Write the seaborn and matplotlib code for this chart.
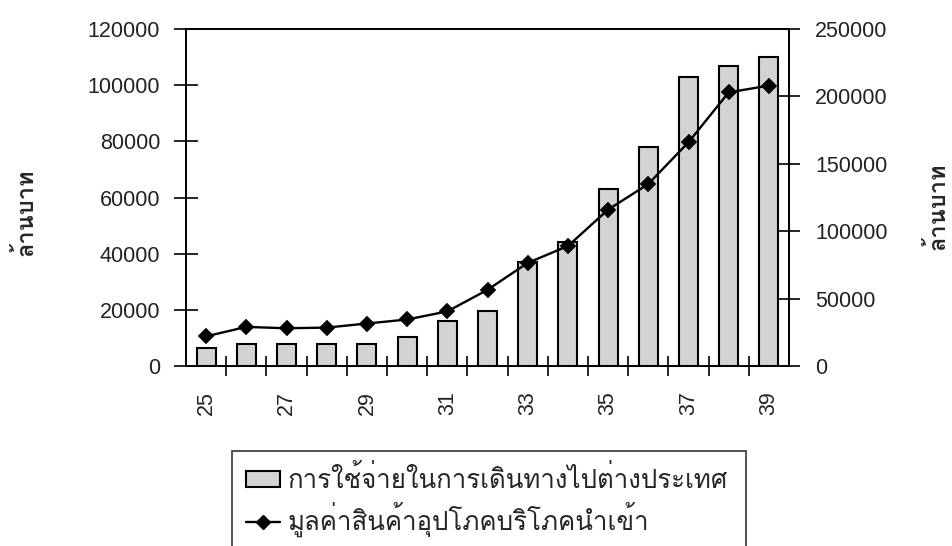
import matplotlib
matplotlib.use("Agg")
import matplotlib.pyplot as plt
import seaborn as sns
import pandas as pd
from matplotlib import font_manager
from matplotlib.ft2font import FT2Font
from matplotlib.patches import Patch
from matplotlib.lines import Line2D

# Buddhist-era years (2525-2539, last two digits)
years = ["25", "26", "27", "28", "29", "30", "31", "32",
         "33", "34", "35", "36", "37", "38", "39"]
# Spending on travel abroad (million baht, left axis)
travel_spending = [6500, 8000, 8000, 8000, 8000, 10400, 16000, 19700,
                   37000, 44000, 63000, 78000, 103000, 107000, 110000]
# Value of imported consumer goods (million baht, right axis)
consumer_imports = [22000, 29000, 28000, 28500, 31500, 34500, 40500, 56500,
                    76500, 89000, 116000, 135000, 166000, 203000, 208000]
left_ticks = [0, 20000, 40000, 60000, 80000, 100000, 120000]
right_ticks = [0, 50000, 100000, 150000, 200000, 250000]
labelled_years = ["25", "27", "29", "31", "33", "35", "37", "39"]

bar_label = "การใช้จ่ายในการเดินทางไปต่างประเทศ"
line_label = "มูลค่าสินค้าอุปโภคบริโภคนำเข้า"
unit_label = "ล้านบาท"


def find_thai_family():
    preferred = ["Loma", "Garuda", "Norasi", "Kinnari", "Sawasdee",
                 "Umpush", "Waree", "Laksaman", "Noto Sans Thai",
                 "Noto Sans Thai Looped", "TH Sarabun New"]
    found = []
    for f in font_manager.fontManager.ttflist:
        try:
            if 0x0E01 in FT2Font(f.fname).get_charmap():
                found.append(f.name)
        except Exception:
            pass
    for p in preferred:
        if p in found:
            return p
    return found[0] if found else None


sns.set_theme(style="white")
thai = find_thai_family()
families = ([thai] if thai else []) + ["Liberation Sans", "DejaVu Sans"]
plt.rcParams["font.family"] = ["Liberation Sans", "DejaVu Sans"]

df = pd.DataFrame({"year": years, "travel": travel_spending,
                   "imports": consumer_imports})

fig = plt.figure(figsize=(9.52, 5.46), dpi=100)
fig.subplots_adjust(left=186 / 952, right=789 / 952,
                    bottom=1 - 366 / 546, top=1 - 29 / 546)
ax = fig.add_subplot(111)

bar_color = "#d3d3d3"
sns.barplot(data=df, x="year", y="travel", order=years, ax=ax,
            color=bar_color, edgecolor="black", linewidth=1.5,
            width=0.47, saturation=1)

ax2 = ax.twinx()
sns.pointplot(data=df, x="year", y="imports", order=years, ax=ax2,
              color="black", markers="D", markersize=7.5, linewidth=1.7,
              errorbar=None)

n = len(years)
for a in (ax, ax2):
    a.set_xlim(-0.5, n - 0.5)
    a.set_xlabel("")
    a.set_ylabel("")
    for s in a.spines.values():
        s.set_color("black")
        s.set_linewidth(1.3)
        s.set_visible(True)

tick_font = 15.5
ax.set_ylim(0, 120000)
ax.set_yticks(left_ticks, [str(v) for v in left_ticks])
ax2.set_ylim(0, 250000)
ax2.set_yticks(right_ticks, [str(v) for v in right_ticks])

# boundaries between years carry the tick marks, year centres carry labels
ax.set_xticks([i + 0.5 for i in range(n - 1)], [""] * (n - 1))
ax.set_xticks([years.index(y) for y in labelled_years], labelled_years,
              minor=True)
ax.tick_params(axis="x", which="major", direction="inout", length=15,
               width=1.2, color="black", bottom=True)
ax.tick_params(axis="x", which="minor", length=0, pad=18,
               labelrotation=90, labelsize=tick_font, labelcolor="#222222")
ax.tick_params(axis="y", direction="inout", length=17, width=1.2,
               color="black", left=True, pad=10.2, labelsize=tick_font,
               labelcolor="#222222")
ax2.tick_params(axis="y", direction="inout", length=16, width=1.2,
                color="black", right=True, pad=10.7, labelsize=tick_font,
                labelcolor="#222222")

fig.text(26 / 952, 1 - 212 / 546, unit_label, rotation=90, ha="center",
         va="center", fontsize=17, fontweight="bold", family=families)
fig.text(938 / 952, 1 - 206 / 546, unit_label, rotation=90, ha="center",
         va="center", fontsize=17, fontweight="bold", family=families)

handles = [Patch(facecolor=bar_color, edgecolor="black", linewidth=1.5),
           Line2D([], [], color="black", marker="D", markersize=7.5,
                  linewidth=1.7)]
leg = fig.legend(handles, [bar_label, line_label], loc="upper left",
                 bbox_to_anchor=(232 / 952, 0, 514 / 952, 1 - 451 / 546),
                 mode="expand", frameon=True, fancybox=False,
                 prop={"family": families, "size": 18.6},
                 handlelength=1.3, handleheight=0.55, handletextpad=0.3,
                 labelspacing=0.35, borderpad=0.55, borderaxespad=0)
leg.get_frame().set_edgecolor("black")
leg.get_frame().set_linewidth(1.2)

fig.savefig("out.png", dpi=100)
